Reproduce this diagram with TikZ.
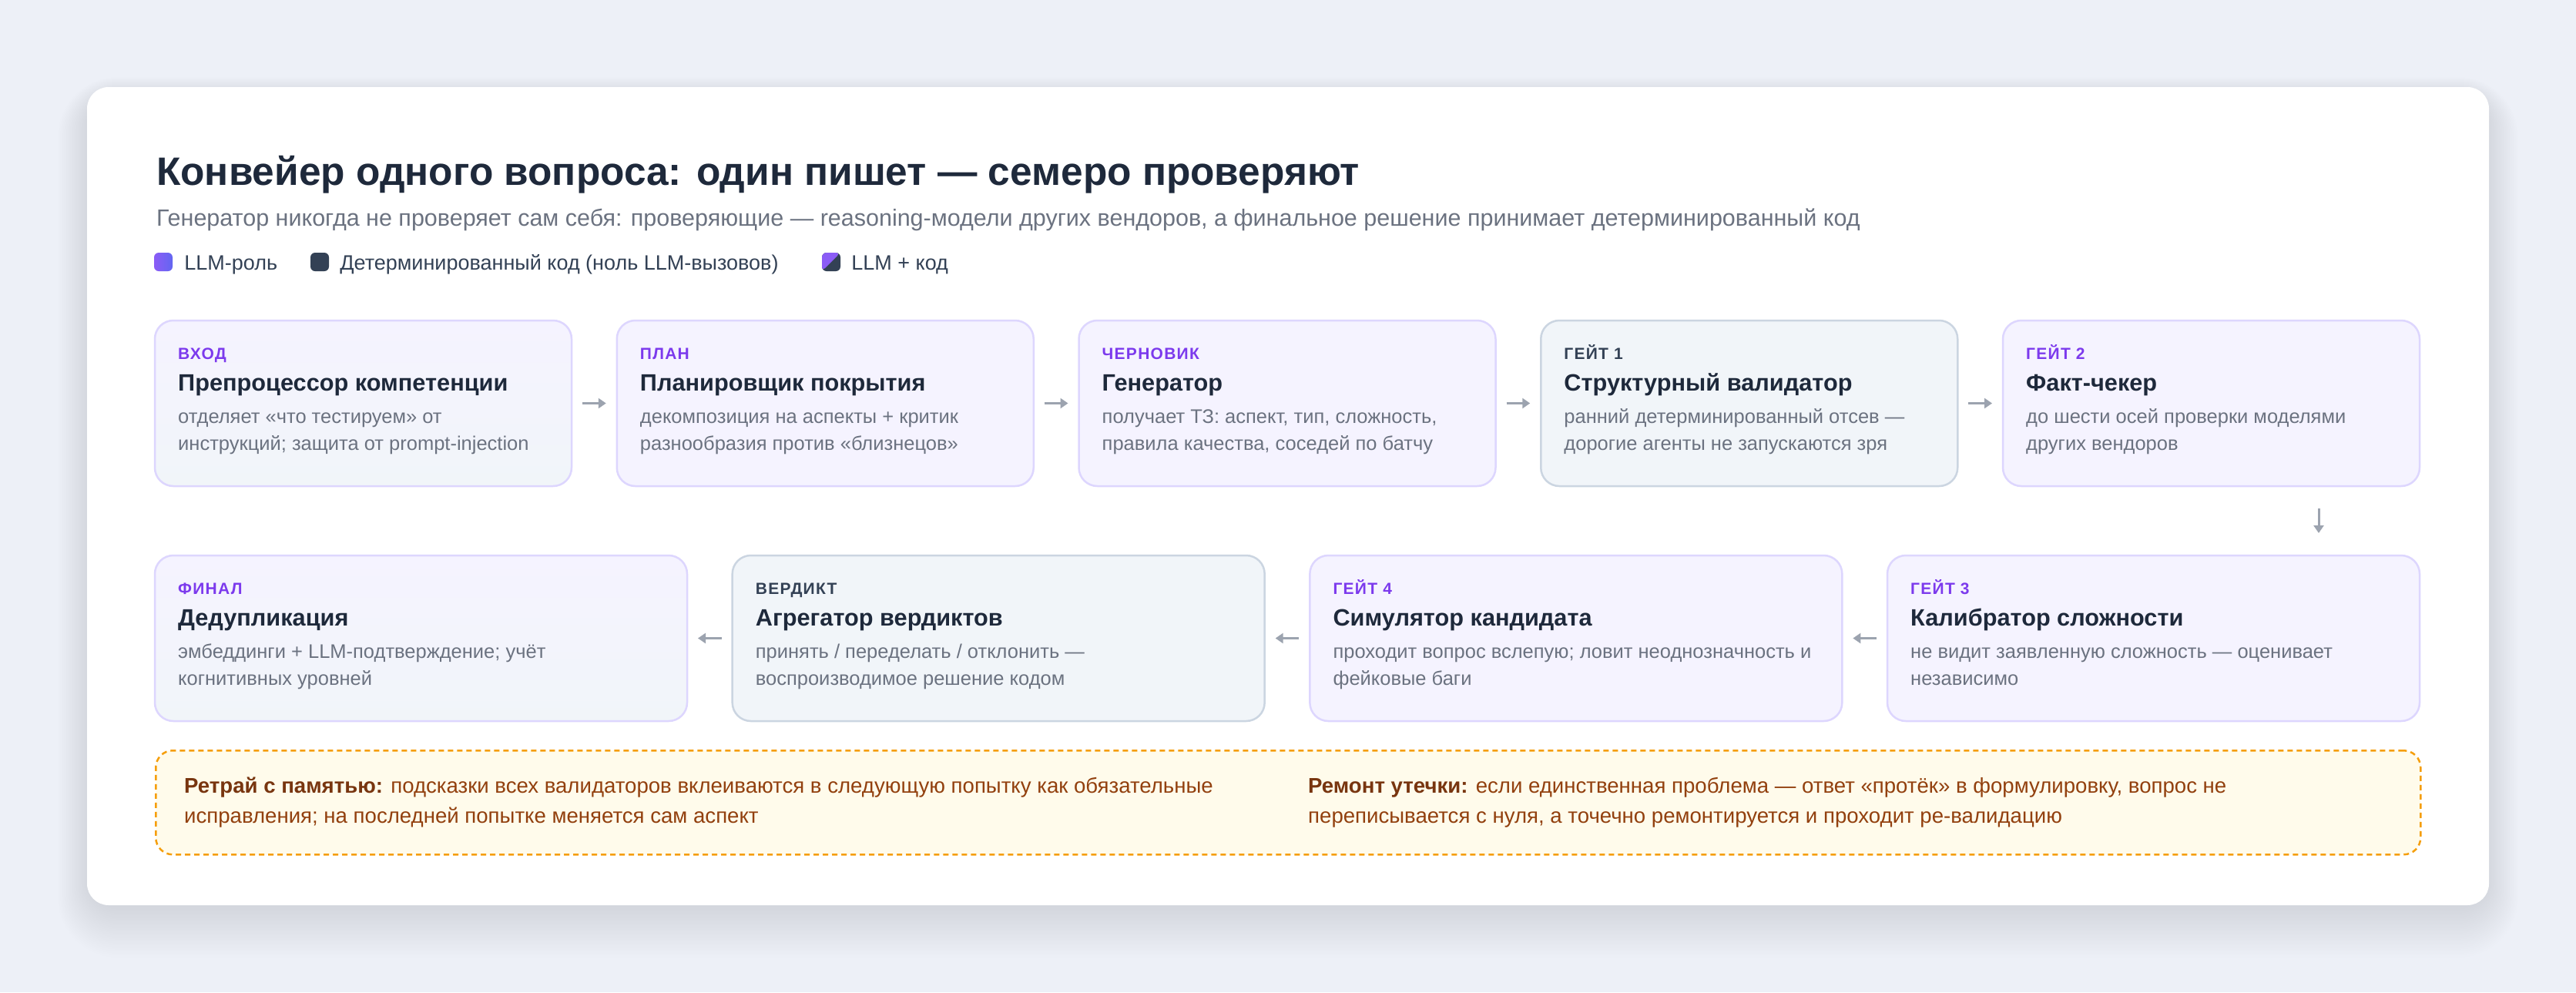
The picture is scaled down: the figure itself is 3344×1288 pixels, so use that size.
\documentclass[tikz,border=0pt]{standalone}
\usepackage{fontspec}
\setmainfont{Liberation Sans}
\usetikzlibrary{positioning,arrows.meta}

\definecolor{ink}{HTML}{1E293B}
\definecolor{muted}{HTML}{6B7280}
\definecolor{slate700}{HTML}{334155}
\definecolor{slate300}{HTML}{CBD5E1}
\definecolor{slate100}{HTML}{F1F5F9}
\definecolor{violet600}{HTML}{7C3AED}
\definecolor{violet500}{HTML}{8B5CF6}
\definecolor{indigo500}{HTML}{6366F1}
\definecolor{violet200}{HTML}{DDD6FE}
\definecolor{violet50}{HTML}{F5F3FF}
\definecolor{arrowgray}{HTML}{9CA3AF}
\definecolor{amber500}{HTML}{F59E0B}
\definecolor{amber50}{HTML}{FFFBEB}
\definecolor{amber800}{HTML}{92400E}
\definecolor{amber900}{HTML}{78350F}
\definecolor{pagebg}{HTML}{EDF0F7}
\definecolor{shadowc}{HTML}{1E2A4A}

\begin{document}
\begin{tikzpicture}[x=1pt,y=-1pt,
      stage/.style={rectangle,rounded corners=24pt,line width=2.5pt,inner sep=0pt,
        outer sep=0pt,minimum height=215pt},
      wide/.style={minimum width=541pt},
      wider/.style={minimum width=691pt},
      llm/.style={stage,draw=violet200,fill=violet50},
      det/.style={stage,draw=slate300,fill=slate100},
      mixed/.style={stage,draw=violet200,top color=violet50,bottom color=slate100},
      key/.style={rectangle,rounded corners=6pt,minimum size=24pt,inner sep=0pt},
      maintitle/.style={anchor=base west,inner sep=0pt,text=ink,
        font=\fontsize{51.4}{62}\selectfont\bfseries},
      subtitle/.style={anchor=base west,inner sep=0pt,text=muted,
        font=\fontsize{30.5}{36}\selectfont},
      keytxt/.style={anchor=base west,inner sep=0pt,text=slate700,
        font=\fontsize{27}{32}\selectfont},
      tagtxt/.style={anchor=base west,inner sep=0pt,
        font=\fontsize{21}{25}\selectfont\bfseries\addfontfeature{LetterSpace=6}},
      headtxt/.style={anchor=base west,inner sep=0pt,text=ink,
        font=\fontsize{30.7}{37}\selectfont\bfseries},
      desctxt/.style={anchor=base west,inner sep=0pt,text=muted,
        font=\fontsize{25.5}{30}\selectfont},
      memo/.style={rectangle,draw=amber500,fill=amber50,line width=2.5pt,
        dash pattern=on 7pt off 5pt,rounded corners=22pt,inner sep=0pt},
      memotxt/.style={anchor=base west,inner sep=0pt,text=amber800,
        font=\fontsize{27.6}{33}\selectfont},
      flow/.style={draw=arrowgray,line width=3pt,-{Triangle[length=10pt,width=13pt]},
        shorten <=14pt,shorten >=14pt}]
      % Page and card
      \useasboundingbox (0,0) rectangle (3344,1288);
      \fill[pagebg] (0,0) rectangle (3344,1288);
      \foreach \i in {1,...,30}
        \fill[shadowc,opacity=0.003,rounded corners=30pt+1.6pt*\i]
          (123-1.6*\i,130-1*\i) rectangle (3221+1.6*\i,1165+2.6*\i);
      \fill[white,rounded corners=28pt] (113,113) rectangle (3231,1175);
      % Heading and legend
      \node[maintitle] (title) at (203,240) {Конвейер одного вопроса: один пишет — семеро проверяют};
      \node[subtitle] (subtitle) at (203,293) {Генератор никогда не проверяет сам себя: проверяющие — reasoning-модели других вендоров, а финальное решение принимает детерминированный код};
      \node[key,left color=violet500,right color=indigo500] (llmkey) at (212,340) {};
      \node[key,fill=slate700] (detkey) at (415,340) {};
      \node[key,fill=slate700,path picture={\fill[violet500]
        (path picture bounding box.north west) -- (path picture bounding box.north east)
        -- (path picture bounding box.south west) -- cycle;}] (mixkey) at (1079,340) {};
      \node[keytxt] (llmlbl) at ([shift={(15,10)}]llmkey.east) {LLM-роль};
      \node[keytxt] (detlbl) at ([shift={(14,10)}]detkey.east) {Детерминированный код (ноль LLM-вызовов)};
      \node[keytxt] (mixlbl) at ([shift={(14,10)}]mixkey.east) {LLM + код};
      % Stages, first row
      \node[mixed,wide,anchor=north west] (pre) at (201,416) {};
      \node[llm,wide,right=58.75pt of pre] (plan) {};
      \node[llm,wide,right=58.75pt of plan] (gen) {};
      \node[det,wide,right=58.75pt of gen] (struct) {};
      \node[llm,wide,right=58.75pt of struct] (fact) {};
      % Stages, second row
      \node[mixed,wider,anchor=north west] (dedup) at (201,721) {};
      \node[det,wider,right=58.67pt of dedup] (verdict) {};
      \node[llm,wider,right=58.67pt of verdict] (sim) {};
      \node[llm,wider,right=58.67pt of sim] (calib) {};
      % Stage texts
      \foreach \nm/\tc/\tg/\hd/\la/\lb in {
        pre/violet600/ВХОД/{Препроцессор компетенции}/{отделяет «что тестируем» от}/{инструкций; защита от prompt-injection},
        plan/violet600/ПЛАН/{Планировщик покрытия}/{декомпозиция на аспекты + критик}/{разнообразия против «близнецов»},
        gen/violet600/ЧЕРНОВИК/{Генератор}/{получает ТЗ: аспект, тип, сложность,}/{правила качества, соседей по батчу},
        struct/slate700/{ГЕЙТ 1}/{Структурный валидатор}/{ранний детерминированный отсев —}/{дорогие агенты не запускаются зря},
        fact/violet600/{ГЕЙТ 2}/{Факт-чекер}/{до шести осей проверки моделями}/{других вендоров},
        dedup/violet600/ФИНАЛ/{Дедупликация}/{эмбеддинги + LLM-подтверждение; учёт}/{когнитивных уровней},
        verdict/slate700/ВЕРДИКТ/{Агрегатор вердиктов}/{принять / переделать / отклонить —}/{воспроизводимое решение кодом},
        sim/violet600/{ГЕЙТ 4}/{Симулятор кандидата}/{проходит вопрос вслепую; ловит неоднозначность и}/{фейковые баги},
        calib/violet600/{ГЕЙТ 3}/{Калибратор сложности}/{не видит заявленную сложность — оценивает}/{независимо}} {
        \node[tagtxt,text=\tc] (\nm-tag) at ([shift={(30,50)}]\nm.north west) {\tg};
        \node[headtxt] (\nm-head) at ([shift={(30,91)}]\nm.north west) {\hd};
        \node[desctxt] (\nm-desc1) at ([shift={(30,133.5)}]\nm.north west) {\la};
        \node[desctxt] (\nm-desc2) at ([shift={(30,168)}]\nm.north west) {\lb};
      }
      % Flow
      \draw[flow] (pre.east) -- (plan.west);
      \draw[flow] (plan.east) -- (gen.west);
      \draw[flow] (gen.east) -- (struct.west);
      \draw[flow] (struct.east) -- (fact.west);
      \coordinate (dropx) at (3010,0);
      \draw[flow,shorten <=29pt,shorten >=29pt] (fact.south -| dropx) -- (calib.north -| dropx);
      \draw[flow] (calib.west) -- (sim.east);
      \draw[flow] (sim.west) -- (verdict.east);
      \draw[flow] (verdict.west) -- (dedup.east);
      % Retry and repair note
      \node[memo,anchor=north west,minimum width=2940pt,minimum height=135pt] (memo) at (201,973) {};
      \node[memotxt] (retry1) at ([shift={(38,56)}]memo.north west)
        {\textcolor{amber900}{\bfseries Ретрай с памятью:} подсказки всех валидаторов вклеиваются в следующую попытку как обязательные};
      \node[memotxt] (retry2) at ([shift={(38,95)}]memo.north west)
        {исправления; на последней попытке меняется сам аспект};
      \node[memotxt] (repair1) at ([shift={(1497,56)}]memo.north west)
        {\textcolor{amber900}{\bfseries Ремонт утечки:} если единственная проблема — ответ «протёк» в формулировку, вопрос не};
      \node[memotxt] (repair2) at ([shift={(1497,95)}]memo.north west)
        {переписывается с нуля, а точечно ремонтируется и проходит ре-валидацию};
    \end{tikzpicture}
\end{document}
